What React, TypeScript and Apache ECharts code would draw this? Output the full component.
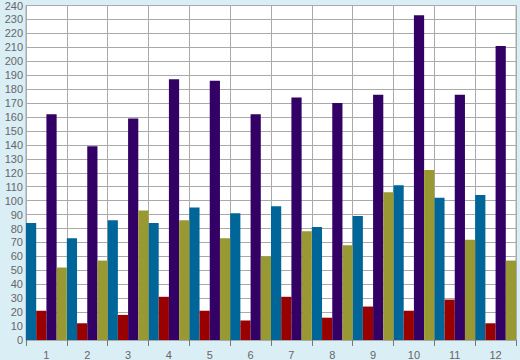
import React, { useEffect, useRef } from "react";
import * as echarts from "echarts";

const categories = ["1", "2", "3", "4", "5", "6", "7", "8", "9", "10", "11", "12"];
const blueValues = [84, 73, 86, 84, 95, 91, 96, 81, 89, 111, 102, 104];
const redValues = [21, 12, 18, 31, 21, 14, 31, 16, 24, 21, 29, 12];
const purpleValues = [162, 139, 159, 187, 186, 162, 174, 170, 176, 233, 176, 211];
const oliveValues = [52, 57, 93, 86, 73, 60, 78, 68, 106, 122, 72, 57];

export default function App() {
  const ref = useRef<HTMLDivElement>(null);
  useEffect(() => {
    if (!ref.current) return;
    const chart = echarts.init(ref.current, null, { renderer: "svg" });
    const mk = (name: string, data: number[], color: string) => ({
      name,
      type: "bar",
      data,
      barGap: "0%",
      barCategoryGap: "0%",
      itemStyle: { color },
    });
    chart.setOption({
      animation: false,
      backgroundColor: "#daeef6",
      grid: {
        left: 26,
        right: 4,
        top: 5,
        bottom: 20,
        show: true,
        backgroundColor: "#ffffff",
        borderColor: "#aaaaaa",
        borderWidth: 1,
      },
      xAxis: {
        type: "category",
        data: categories,
        axisLine: { show: true, lineStyle: { color: "#aaaaaa", width: 1 } },
        axisTick: { show: true, length: 6, alignWithLabel: false, lineStyle: { color: "#777777" } },
        axisLabel: { color: "#666666", fontSize: 11, fontFamily: "Liberation Sans, Arial, sans-serif", margin: 9 },
        splitLine: { show: true, lineStyle: { color: "#aaaaaa", width: 1 } },
      },
      yAxis: {
        type: "value",
        min: 0,
        max: 240,
        interval: 10,
        axisLine: { show: true, lineStyle: { color: "#aaaaaa" } },
        axisTick: { show: false },
        axisLabel: { color: "#666666", fontSize: 11, fontFamily: "Liberation Sans, Arial, sans-serif", margin: 3 },
        splitLine: { show: true, lineStyle: { color: "#aaaaaa", width: 1 } },
      },
      series: [
        mk("A", blueValues, "#006699"),
        mk("B", redValues, "#990000"),
        mk("C", purpleValues, "#330066"),
        mk("D", oliveValues, "#999933"),
      ],
    });
    return () => chart.dispose();
  }, []);
  return <div ref={ref} style={{ width: 520, height: 360, position: "absolute", left: 0, top: 0 }} />;
}
